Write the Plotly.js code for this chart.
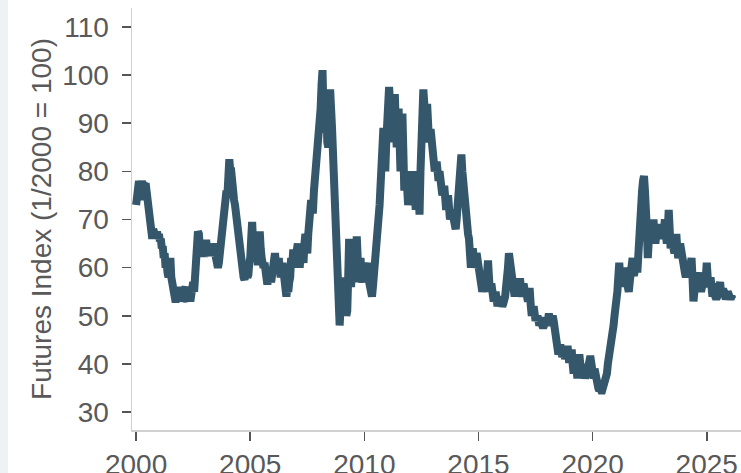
<!DOCTYPE html>
<html>
<head>
<meta charset="utf-8">
<script src="https://cdn.plot.ly/plotly-3.0.1.min.js"></script>
<style>
  html, body { margin: 0; padding: 0; background: #eef2f4; width: 741px; height: 473px; overflow: hidden; }
  #chart { position: absolute; left: 8px; top: 0; width: 733px; height: 473px; background: #ffffff; }
</style>
</head>
<body>
<div id="chart"></div>
<script>
// Half-monthly futures index values (1/2000 = 100)
const startYear = 2000;
const v2000 = [73, 75, 77.5, 78, 74, 76, 78, 77, 77, 75, 77.5, 76, 72, 70, 69, 67, 67.5, 66, 68, 66.5, 66.5, 67, 67.5, 66];
const v2001 = [67, 65.5, 66, 64, 64.5, 62, 63, 60, 61, 59, 58, 60, 62, 58, 57, 54, 55, 53.5, 53.5, 56, 56, 54, 54, 55.5];
const v2002 = [55, 53, 53.5, 55.5, 56, 53.5, 53, 55, 55.5, 53, 54, 56, 57, 55, 59, 62, 66, 67.5, 67, 64, 63.5, 65, 65, 63];
const v2003 = [63, 65, 65, 63, 62.5, 64, 64.5, 62.5, 63, 65, 64, 62, 62, 60, 60, 61, 63, 65, 67, 70, 71, 73, 73, 76];
const v2004 = [75, 79, 82.5, 80, 80, 76, 77, 74, 73, 71, 70, 67, 66, 64, 63, 61, 60, 58, 57.5, 59, 60, 58, 58.5, 61];
const v2005 = [62, 66, 69.5, 65, 62, 64, 66, 62, 60.5, 64, 67.5, 64, 62, 60, 60, 61, 59, 58, 56.5, 58, 60, 58, 57, 59];
const v2006 = [60, 62, 63, 61, 59.5, 61, 62, 60, 58, 60, 61, 58, 57, 55, 54, 56, 55, 57, 58, 62, 60, 63, 63, 61];
const v2007 = [62, 64, 65, 62, 60, 63, 64, 62, 61, 65, 67, 64, 63, 67, 70, 73, 74, 72, 72, 76, 78, 82, 83, 86];
const v2008 = [86, 90, 93, 98, 101, 92, 88, 94, 96, 86, 85, 92, 97, 93, 89, 84, 78, 72, 64, 60, 55, 50, 48, 52];
const v2009 = [58, 53, 50, 55, 54, 50, 51, 58, 66, 60, 56, 61, 63, 58, 57, 60, 66.5, 62, 59, 60, 62, 58, 57, 59];
const v2010 = [60, 58, 57, 60, 61, 57, 55, 54, 54, 56, 58, 60, 62, 65, 67, 70, 73, 77, 82, 86, 89, 85, 80, 86];
const v2011 = [92, 95, 97.5, 94, 95, 90, 86, 92, 96, 90, 85, 88, 93, 86, 80, 86, 92, 84, 76, 79, 80, 77, 73, 75];
const v2012 = [80, 77, 75, 78, 80, 76, 72, 75, 79, 74, 71, 80, 90, 95, 97, 94, 91, 92, 94, 90, 86, 88, 88, 86];
const v2013 = [85, 82, 80, 81, 82, 79, 78, 80, 79, 77, 75, 76, 77, 74, 72, 74, 75, 72, 70, 71, 72, 70, 69, 70];
const v2014 = [68, 70, 74, 77, 80, 82, 83.5, 80, 77, 76, 75, 71, 68, 67, 66, 64, 60, 62, 64, 62, 60, 61, 63, 61];
const v2015 = [60, 58, 57, 56, 55, 56, 58, 57, 56, 59, 61.5, 58, 55, 56, 56, 54, 53, 54, 55, 53, 52, 53, 54, 53];
const v2016 = [53, 52, 52.5, 53, 54, 56, 57, 60, 63, 61, 59, 57, 56, 55, 54, 56, 57, 55, 55, 57, 57, 55, 54, 56];
const v2017 = [56, 55, 55, 54, 53, 55, 55, 52, 50, 51, 52, 50, 49, 49.5, 50, 48, 48, 49, 49, 48, 47.5, 48, 49, 48];
const v2018 = [48, 49, 50.5, 49, 49, 50, 50, 49, 48, 47, 46, 43, 42, 43, 44, 42, 41.5, 42, 43, 41, 42, 43, 43, 41];
const v2019 = [41, 42, 43, 40, 38, 40, 41, 38, 37, 39, 42, 40, 39, 38, 40, 38, 37, 38, 38, 40, 40, 41, 41, 39];
const v2020 = [38, 37, 39, 37, 36, 35, 35, 34.5, 35, 34.5, 34.5, 35, 35.5, 36, 37, 38, 40, 41, 42, 44, 45, 47, 48, 50];
const v2021 = [51, 53, 55, 58, 61, 58, 56, 59, 60, 57, 57, 59, 60, 56, 55, 57, 58, 60, 62, 59, 59, 60, 61, 59];
const v2022 = [64, 67, 70, 73, 76, 78, 79, 76, 74, 68, 62, 65, 69, 67, 66, 68, 70, 67, 65, 67, 69, 67, 66, 68];
const v2023 = [69, 67, 66, 68, 70, 67, 65, 68, 72, 68, 64, 66, 66, 64, 63, 65, 67, 64, 62, 63, 65, 63, 61, 62];
const v2024 = [61, 59, 58, 60, 60, 58, 59, 60, 62, 58, 53, 55, 58, 57, 56, 58, 59, 56, 55, 56, 58, 57, 56, 58];
const v2025 = [61, 58, 57, 56, 58, 55, 54, 56, 56, 54, 53.5, 54, 55, 56, 57, 55, 54, 55, 55, 54, 53.5, 54, 55, 54];
const v2026 = [54, 53.5, 54, 53.5];
const pointsPerYear = 24;

const tickYears = [2000, 2005, 2010, 2015, 2020, 2025];
const tickValuesY = [30, 40, 50, 60, 70, 80, 90, 100, 110];

const series = [v2000, v2001, v2002, v2003, v2004, v2005, v2006, v2007, v2008, v2009,
  v2010, v2011, v2012, v2013, v2014, v2015, v2016, v2017, v2018, v2019,
  v2020, v2021, v2022, v2023, v2024, v2025, v2026];

const xs = [], ys = [];
series.forEach((arr, i) => {
  arr.forEach((v, k) => {
    xs.push(startYear + i + k / pointsPerYear);
    ys.push(v);
  });
});

const trace = {
  x: xs, y: ys, type: 'scatter', mode: 'lines',
  line: { color: '#34576c', width: 8 },
  hoverinfo: 'skip'
};

const fontFam = '"Liberation Sans", Arial, Helvetica, sans-serif';
const layout = {
  width: 733, height: 473,
  margin: { l: 124, r: 0, t: 8, b: 43 },
  paper_bgcolor: '#ffffff', plot_bgcolor: '#ffffff',
  showlegend: false,
  font: { family: fontFam, color: '#595959', size: 28 },
  xaxis: {
    range: [1999.82, 2026.5],
    tickvals: tickYears, ticktext: tickYears.map(String),
    showgrid: false, zeroline: false,
    showline: true, linecolor: '#d0d0d0', linewidth: 1.5,
    ticks: 'outside', ticklen: 9, tickwidth: 1.5, tickcolor: '#555555',
    tickfont: { family: fontFam, size: 28, color: '#595959' }
  },
  yaxis: {
    range: [26.3, 113.9],
    tickvals: tickValuesY, ticktext: tickValuesY.map(String),
    showgrid: false, zeroline: false,
    showline: true, linecolor: '#d0d0d0', linewidth: 1.5,
    ticks: 'outside', ticklen: 9, tickwidth: 1.5, tickcolor: '#555555',
    ticklabelstandoff: 7,
    tickfont: { family: fontFam, size: 28, color: '#595959' },
    title: { text: 'Futures Index (1/2000 = 100)', font: { family: fontFam, size: 28, color: '#595959' }, standoff: 2 }
  }
};

Plotly.newPlot('chart', [trace], layout, { staticPlot: true, displayModeBar: false });
</script>
</body>
</html>
